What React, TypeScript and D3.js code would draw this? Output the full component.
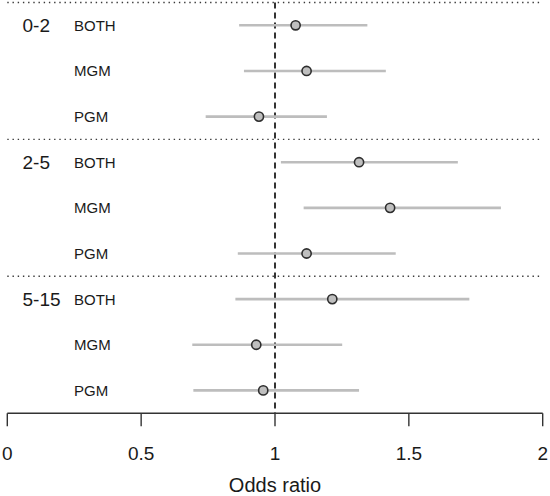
import React from "react";
import * as d3 from "d3";

const groups = ["0-2", "2-5", "5-15"];
const subgroups = ["BOTH", "MGM", "PGM"];
// odds ratio estimates and 95% CI, in order group x subgroup
const estimates = [1.077, 1.118, 0.940, 1.314, 1.430, 1.118, 1.214, 0.930, 0.956];
const lower = [0.866, 0.884, 0.741, 1.022, 1.107, 0.861, 0.852, 0.691, 0.695];
const upper = [1.345, 1.414, 1.194, 1.683, 1.844, 1.451, 1.726, 1.251, 1.314];
const xTicks = [0, 0.5, 1, 1.5, 2];
const xTickLabels = ["0", "0.5", "1", "1.5", "2"];
const xTitle = "Odds ratio";

const W = 550;
const H = 496;
const FONT = "'Liberation Sans', Arial, sans-serif";

export default function App() {
  const x = d3.scaleLinear().domain([0, 2]).range([7.3, 542.7]);
  const nRows = groups.length * subgroups.length;
  const y = d3.scaleLinear().domain([-0.5, nRows - 0.5]).range([2.5, 413.2]);

  const rows = d3.range(nRows).map((i) => ({
    i,
    group: groups[Math.floor(i / subgroups.length)],
    sub: subgroups[i % subgroups.length],
    est: estimates[i],
    lo: lower[i],
    hi: upper[i],
  }));

  const separators = groups.map((_, g) => g * subgroups.length - 0.5);
  const axisY = y(nRows - 0.5);

  return (
    <svg
      width={W}
      height={H}
      style={{ position: "absolute", left: 0, top: 0, background: "#fff" }}
      fontFamily={FONT}
    >
      {/* dotted separators */}
      {separators.map((s, k) => (
        <line
          key={"sep" + k}
          x1={x(0)}
          x2={x(2)}
          y1={y(s)}
          y2={y(s)}
          stroke="#3a3a3a"
          strokeWidth={1.4}
          strokeDasharray="1.4,3.8"
        />
      ))}
      {/* reference line at 1 */}
      <line
        x1={x(1)}
        x2={x(1)}
        y1={y(-0.5)}
        y2={axisY}
        stroke="#333"
        strokeWidth={2}
        strokeDasharray="6,4"
      />
      {/* CI lines */}
      {rows.map((r) => (
        <line
          key={"ci" + r.i}
          x1={x(r.lo)}
          x2={x(r.hi)}
          y1={y(r.i)}
          y2={y(r.i)}
          stroke="#bdbdbd"
          strokeWidth={2.6}
        />
      ))}
      {/* points */}
      {rows.map((r) => (
        <circle
          key={"pt" + r.i}
          cx={x(r.est)}
          cy={y(r.i)}
          r={4.6}
          fill="#bfbfbf"
          stroke="#2e2e2e"
          strokeWidth={1.6}
        />
      ))}
      {/* labels */}
      {rows.map((r) => (
        <text
          key={"sl" + r.i}
          x={74}
          y={y(r.i) + 5.4}
          fontSize={15}
          fill="#1a1a1a"
        >
          {r.sub}
        </text>
      ))}
      {groups.map((g, k) => (
        <text
          key={"gl" + k}
          x={22.5}
          y={y(k * subgroups.length) + 6.4}
          fontSize={19}
          fill="#1a1a1a"
        >
          {g}
        </text>
      ))}
      {/* x axis */}
      <line x1={x(0)} x2={x(2)} y1={axisY} y2={axisY} stroke="#333" strokeWidth={1.4} />
      {xTicks.map((t, k) => (
        <g key={"t" + k}>
          <line x1={x(t)} x2={x(t)} y1={axisY} y2={axisY + 13} stroke="#333" strokeWidth={1.4} />
          <text x={x(t)} y={460} textAnchor="middle" fontSize={19} fill="#1a1a1a">
            {xTickLabels[k]}
          </text>
        </g>
      ))}
      <text x={(x(0) + x(2)) / 2} y={492.3} textAnchor="middle" fontSize={20} fill="#1a1a1a">
        {xTitle}
      </text>
    </svg>
  );
}
